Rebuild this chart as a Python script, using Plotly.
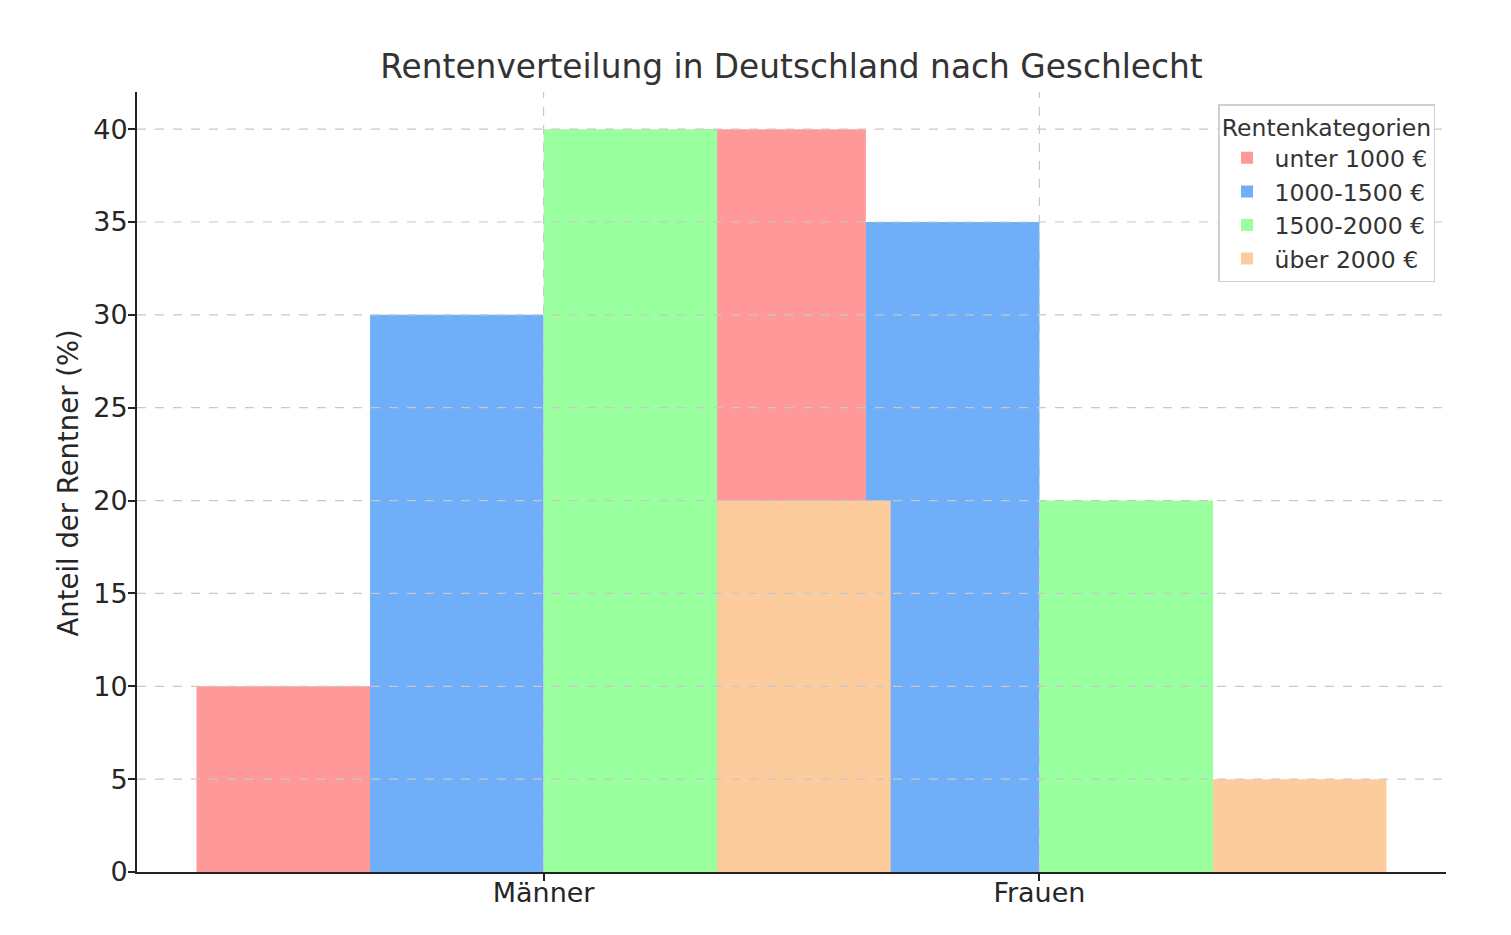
import plotly.graph_objects as go

categories = ["Männer", "Frauen"]
series_names = ["unter 1000 €", "1000-1500 €", "1500-2000 €", "über 2000 €"]
series_values = [
    [10, 40],
    [30, 35],
    [40, 20],
    [20, 5],
]
colors = ["#ff9999", "#6faef8", "#99ff9f", "#fccc9d"]
y_ticks = [0, 5, 10, 15, 20, 25, 30, 35, 40]
y_title = "Anteil der Rentner (%)"

bar_width = 0.35
font_family = "DejaVu Sans"

fig = go.Figure()
n = len(series_names)
for j, (name, vals, col) in enumerate(zip(series_names, series_values, colors)):
    offset = (j - (n - 1) / 2) * bar_width
    xs = [i + offset for i in range(len(categories))]
    fig.add_trace(go.Bar(
        x=xs, y=vals, name=name, width=bar_width,
        marker=dict(color=col, line=dict(width=0)),
    ))

shapes = []
grid_style = dict(color="#c8c8c8", width=1.2, dash="dash")
for t in y_ticks[1:]:
    shapes.append(dict(type="line", xref="paper", x0=0, x1=1, yref="y", y0=t, y1=t,
                       line=grid_style, layer="above"))
for i in range(len(categories)):
    shapes.append(dict(type="line", xref="x", x0=i, x1=i, yref="paper", y0=0, y1=1,
                       line=grid_style, layer="above"))

fig.update_layout(
    width=1511, height=935,
    barmode="overlay",
    paper_bgcolor="white", plot_bgcolor="white",
    margin=dict(l=137, r=65, t=92, b=63),
    font=dict(family=font_family, color="#262626"),
    title=dict(text="Rentenverteilung in Deutschland nach Geschlecht",
               x=(137 + 1446) / 2 / 1511, xanchor="center",
               y=1 - 67 / 935, yanchor="middle",
               font=dict(size=32.8, color="#333333", family=font_family)),
    xaxis=dict(
        range=[-0.82, 1.82],
        tickmode="array", tickvals=list(range(len(categories))), ticktext=categories,
        showgrid=False, zeroline=False,
        showline=True, linecolor="#222222", linewidth=2,
        ticks="outside", ticklen=7, tickwidth=1.5, tickcolor="#222222",
        tickfont=dict(size=27, color="#262626"),
        ticklabelstandoff=-11,
    ),
    yaxis=dict(
        range=[0, 42],
        tickmode="array", tickvals=y_ticks,
        showgrid=False, zeroline=False,
        showline=True, linecolor="#222222", linewidth=2,
        ticks="outside", ticklen=7, tickwidth=1.5, tickcolor="#222222",
        tickfont=dict(size=27, color="#262626"),
        ticklabelstandoff=-5,
    ),
    annotations=[dict(
        text=y_title, textangle=-90, showarrow=False,
        xref="paper", x=(68 - 137) / 1309, xanchor="center",
        yref="paper", y=0.498, yanchor="middle",
        font=dict(size=27.5, color="#262626"),
    )],
    legend=dict(
        x=(1435 - 137) / 1309, xanchor="right",
        y=(872 - 104) / 780, yanchor="top",
        bgcolor="white", bordercolor="#d0d0d0", borderwidth=1.5,
        font=dict(size=23.5, color="#333333"),
        title=dict(text="Rentenkategorien", side="top center",
                   font=dict(size=23.5, color="#333333")),
        tracegroupgap=0,
        itemwidth=45,
    ),
    shapes=shapes,
)

fig.write_html("out.html")
